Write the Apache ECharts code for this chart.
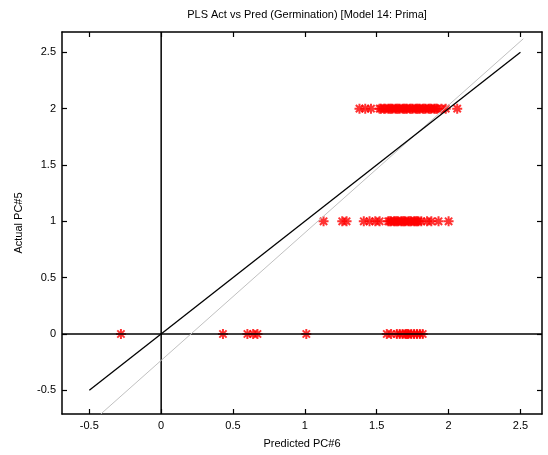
<!DOCTYPE html>
<html>
<head>
<meta charset="utf-8">
<script src="https://cdn.jsdelivr.net/npm/echarts@6/dist/echarts.min.js"></script>
<style>html,body{margin:0;padding:0;background:#fff}#c{width:548px;height:455px}</style>
</head>
<body>
<div id="c"></div>
<script>
// ---- data ----
const titleText = 'PLS Act vs Pred (Germination) [Model 14: Prima]';
const xName = 'Predicted PC#6';
const yName = 'Actual PC#5';
const xTicks = [-0.5, 0, 0.5, 1, 1.5, 2, 2.5];
const yTicks = [-0.5, 0, 0.5, 1, 1.5, 2, 2.5];
const xRange = [-0.69, 2.65];
const yRange = [-0.71, 2.68];
// actual value levels and predicted x positions of the stars
const row2Y = 2;
const row2X = [1.38,1.42,1.46,1.52,1.53,1.55,1.56,1.58,1.59,1.60,1.61,1.63,1.64,1.65,1.66,1.68,1.69,1.70,1.71,1.73,1.74,1.75,1.77,1.78,1.79,1.80,1.82,1.83,1.84,1.86,1.87,1.88,1.90,1.91,1.92,1.95,1.98,2.06];
const row1Y = 1;
const row1X = [1.13,1.26,1.29,1.41,1.45,1.49,1.52,1.58,1.59,1.60,1.62,1.63,1.64,1.65,1.67,1.68,1.69,1.70,1.72,1.73,1.74,1.76,1.77,1.78,1.79,1.81,1.85,1.88,1.93,2.00];
const row0Y = 0;
const row0X = [-0.28,0.43,0.60,0.64,0.67,1.01,1.57,1.60,1.64,1.66,1.68,1.70,1.71,1.72,1.74,1.76,1.78,1.80,1.82];
// reference lines
const identityLine = [[-0.5,-0.5],[2.5,2.5]];
const fitLine = [[-0.42,-0.71],[2.52,2.62]];
const zeroVLine = [[0, yRange[0]],[0, yRange[1]]];
const zeroHLine = [[xRange[0], 0],[xRange[1], 0]];

const starPath = 'path://M0 8L20 8L20 12L0 12Z M8 0L12 0L12 20L8 20Z M4.1 1.3L18.7 15.9L15.9 18.7L1.3 4.1Z M15.9 1.3L18.7 4.1L4.1 18.7L1.3 15.9Z';

const pts = [];
row2X.forEach(x => pts.push([x, row2Y]));
row1X.forEach(x => pts.push([x, row1Y]));
row0X.forEach(x => pts.push([x, row0Y]));

const font = "'Liberation Sans', Arial, sans-serif";
const chart = echarts.init(document.getElementById('c'), null, {renderer: 'canvas'});

function axisCommon(ticks, showLabels) {
  return {
    axisLine: {show: true, onZero: false, lineStyle: {color: '#000', width: 1.5}},
    axisTick: {show: true, inside: true, length: 5, customValues: ticks, lineStyle: {color: '#000', width: 1.2}},
    axisLabel: {show: showLabels, customValues: ticks, color: '#000', fontFamily: font, fontSize: 11, margin: 6},
    splitLine: {show: false}
  };
}

chart.setOption({
  animation: false,
  backgroundColor: '#fff',
  title: {
    text: titleText, left: 302, top: 4, textAlign: 'center',
    textStyle: {fontFamily: font, fontSize: 11, fontWeight: 'normal', color: '#000'}
  },
  grid: {left: 62, right: 6, top: 32, bottom: 41},
  xAxis: [
    Object.assign({type: 'value', position: 'bottom', min: xRange[0], max: xRange[1],
      name: xName, nameLocation: 'middle', nameGap: 24,
      nameTextStyle: {fontFamily: font, fontSize: 11, color: '#000'}}, axisCommon(xTicks, true)),
    Object.assign({type: 'value', position: 'top', min: xRange[0], max: xRange[1]}, axisCommon(xTicks, false))
  ],
  yAxis: [
    Object.assign({type: 'value', position: 'left', min: yRange[0], max: yRange[1],
      name: yName, nameLocation: 'middle', nameGap: 38,
      nameTextStyle: {fontFamily: font, fontSize: 11, color: '#000'}}, axisCommon(yTicks, true)),
    Object.assign({type: 'value', position: 'right', min: yRange[0], max: yRange[1]}, axisCommon(yTicks, false))
  ],
  series: [
    {type: 'line', data: zeroVLine, symbol: 'none', lineStyle: {color: '#000', width: 1.5}, silent: true},
    {type: 'line', data: zeroHLine, symbol: 'none', lineStyle: {color: '#000', width: 1.5}, silent: true},
    {type: 'line', data: fitLine, symbol: 'none', lineStyle: {color: '#c0c0c0', width: 1}, silent: true},
    {type: 'line', data: identityLine, symbol: 'none', lineStyle: {color: '#000', width: 1.3}, silent: true},
    {type: 'scatter', data: pts, symbol: starPath, symbolSize: 10, itemStyle: {color: '#ff0000'}, silent: true}
  ]
});
</script>
</body>
</html>
